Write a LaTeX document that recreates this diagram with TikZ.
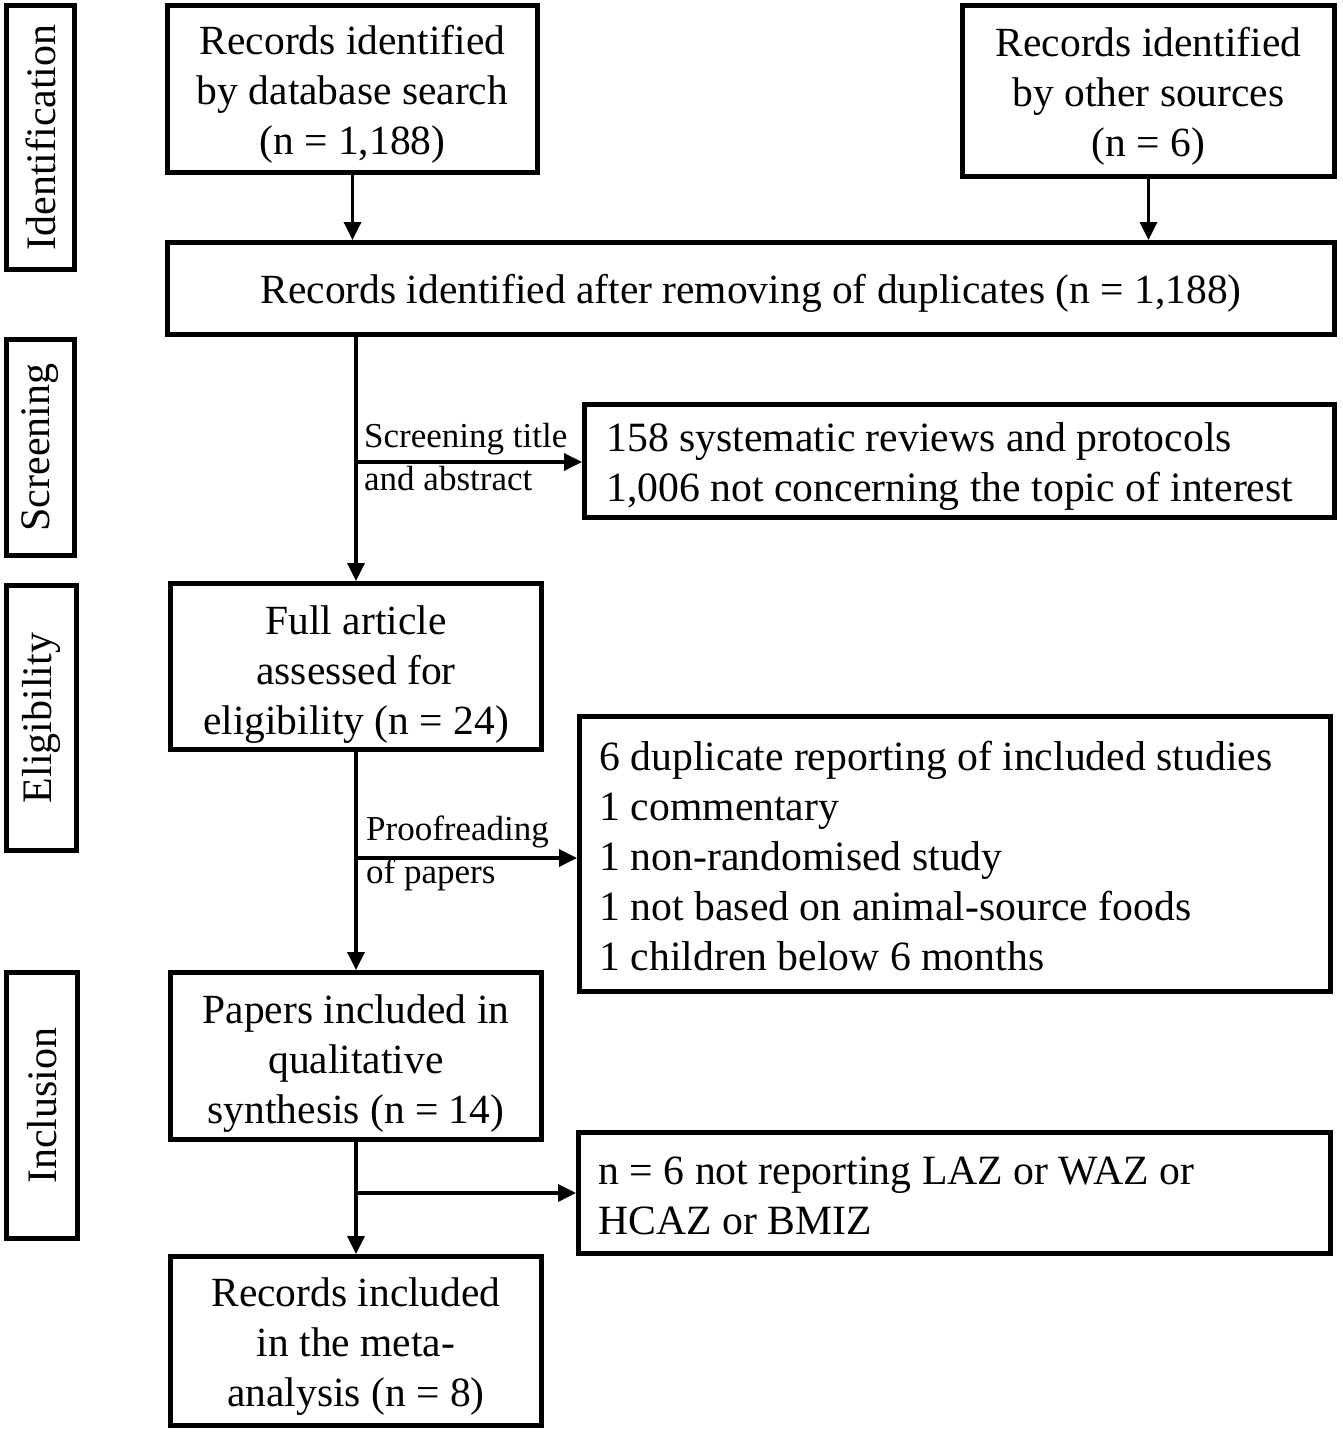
\documentclass[tikz,border=0pt]{standalone}
\usepackage{fontspec}
\setmainfont{Liberation Serif}
\usetikzlibrary{arrows.meta,calc}
\begin{document}
\begin{tikzpicture}[x=1pt,y=-1pt,
  box/.style={draw, line width=5pt, inner sep=0pt},
  txt/.style={inner sep=0pt, align=center, font=\fontsize{41.5}{50}\selectfont},
  ltxt/.style={inner sep=0pt, align=flush left, font=\fontsize{41.7}{50}\selectfont},
  sidebox/.style={draw, line width=5pt, inner sep=0pt, rotate=90,
    font=\fontsize{42}{50}\selectfont},
  arr/.style={line width=3.5pt, -{Triangle[length=18pt,width=17pt]}},
  lab/.style={anchor=west, align=left, inner sep=0pt,
    font=\fontsize{35}{43}\selectfont}
]
\path[use as bounding box, fill=white] (0,0) rectangle (1343,1434);

% side labels
\node[sidebox, minimum width=264pt, minimum height=68pt] (sid) at (40.5,137.5) {Identification};
\node[sidebox, minimum width=216pt, minimum height=68pt] (sscr) at (40.5,447.5) {Screening};
\node[sidebox, minimum width=265pt, minimum height=70pt] (sel) at (41.5,718) {Eligibility};
\node[sidebox, minimum width=266pt, minimum height=71pt] (sinc) at (42,1105.5) {Inclusion};

% main boxes
\node[box, minimum width=370pt, minimum height=167pt] (db) at (352.5,89) {};
\node[txt] (dbt) at ($(db.center)+(0,5)$) {Records identified\\by database search\\(n = 1,188)};

\node[box, minimum width=372pt, minimum height=171pt] (oth) at (1148.5,91) {};
\node[txt] (otht) at ($(oth.center)+(0,5)$) {Records identified\\by other sources\\(n = 6)};

\node[box, minimum width=1167pt, minimum height=92pt] (dup) at (751,288.5) {};
\node[txt] (dupt) at ($(dup.center)+(0,5)$) {Records identified after removing of duplicates (n = 1,188)};

\node[box, minimum width=750pt, minimum height=113pt] (exc1) at (959.5,461) {};
\node[ltxt, text width=706pt] (exc1t) at ($(exc1.center)+(0,6)$)
  {158 systematic reviews and protocols\\1,006 not concerning the topic of interest};

\node[box, minimum width=371pt, minimum height=166pt] (full) at (356,666.5) {};
\node[txt] (fullt) at ($(full.center)+(0,8)$) {Full article\\assessed for\\eligibility (n = 24)};

\node[box, minimum width=751pt, minimum height=275pt] (exc2) at (955,854) {};
\node[ltxt, text width=711pt] (exc2t) at ($(exc2.center)+(0,2)$)
  {6 duplicate reporting of included studies\\1 commentary\\1 non-randomised study\\1 not based on animal-source foods\\1 children below 6 months};

\node[box, minimum width=371pt, minimum height=167pt] (qual) at (356,1056) {};
\node[txt] (qualt) at ($(qual.center)+(0,8)$) {Papers included in\\qualitative\\synthesis (n = 14)};

\node[box, minimum width=752pt, minimum height=121pt] (exc3) at (954.5,1193) {};
\node[ltxt, text width=712pt] (exc3t) at ($(exc3.center)+(0,3)$)
  {n = 6 not reporting LAZ or WAZ or\\HCAZ or BMIZ};

\node[box, minimum width=371pt, minimum height=169pt] (meta) at (356,1341) {};
\node[txt] (metat) at ($(meta.center)+(0,6)$) {Records included\\in the meta-\\analysis (n = 8)};

% connectors
\draw[arr] (db.south) -- (db.south |- dup.north);
\draw[arr] (oth.south) -- (oth.south |- dup.north);

\draw[arr] (full.north |- dup.south) -- (full.north);
\coordinate (b1) at (356,462);
\draw[arr] (b1) -- (b1 -| exc1.west);
\node[lab] (l1) at (364,457) {Screening title\\and abstract};

\draw[arr] (full.south) -- (qual.north);
\coordinate (b2) at (356,858);
\draw[arr] (b2) -- (b2 -| exc2.west);
\node[lab] (l2) at (366,853) {Proofreading\\of papers};

\draw[arr] (qual.south) -- (meta.north);
\coordinate (b3) at (356,1193);
\draw[arr] (b3) -- (b3 -| exc3.west);
\end{tikzpicture}
\end{document}
